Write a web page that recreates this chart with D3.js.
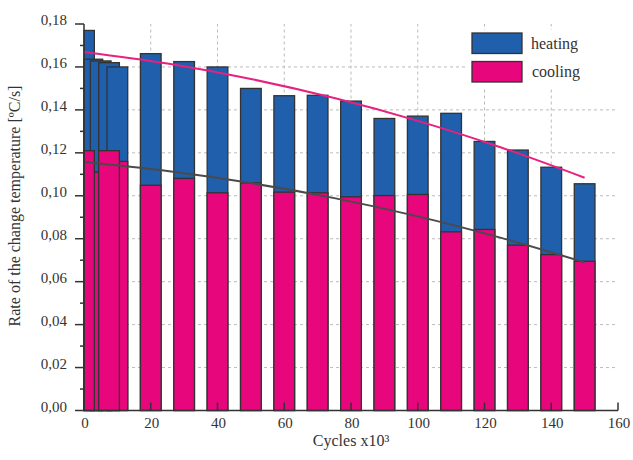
<!DOCTYPE html>
<html>
<head>
<meta charset="utf-8">
<script src="https://cdn.jsdelivr.net/npm/d3@7"></script>
<style>
  body { margin: 0; background: #fff; }
  text { font-family: "Liberation Serif", "Times New Roman", serif; fill: #333; }
</style>
</head>
<body>
<div id="chart"></div>
<script>
// bars: cycles x10^3 and rates
const cycles = [0, 2.5, 5, 7.5, 10, 20, 30, 40, 50, 60, 70, 80, 90, 100, 110, 120, 130, 140, 150];
const heating = [0.177, 0.1636, 0.1628, 0.162, 0.160, 0.1662, 0.1625, 0.160, 0.150, 0.1466, 0.1468, 0.1441, 0.1360, 0.1371, 0.1384, 0.1253, 0.1213, 0.1133, 0.1056];
const cooling = [0.121, 0.111, 0.111, 0.121, 0.116, 0.1049, 0.1081, 0.1014, 0.106, 0.1017, 0.1014, 0.0995, 0.1001, 0.1006, 0.0832, 0.0843, 0.077, 0.0726, 0.0695];

// fitted trend lines, read at a few points
const fitCycles = [0, 25, 50, 75, 100, 125, 150];
const heatingFit = [0.167, 0.1616, 0.1544, 0.1455, 0.1349, 0.1225, 0.1084];
const coolingFit = [0.1157, 0.1115, 0.1059, 0.0989, 0.0904, 0.0804, 0.0690];

const xTicks = [0, 20, 40, 60, 80, 100, 120, 140, 160];
const yTicks = [0, 0.02, 0.04, 0.06, 0.08, 0.10, 0.12, 0.14, 0.16, 0.18];
const seriesNames = ["heating", "cooling"];

const margin = { top: 24, right: 15, bottom: 49.5, left: 84 };
const width = 633 - margin.left - margin.right;
const height = 460 - margin.top - margin.bottom;

const svg = d3.select("#chart")
  .append("svg")
  .attr("width", 633)
  .attr("height", 460)
  .append("g")
  .attr("transform", `translate(${margin.left},${margin.top})`);

const x = d3.scaleLinear().domain([0, 160]).range([0, width]);
const y = d3.scaleLinear().domain([0, 0.18]).range([height, 0]);

const blue = "#1f5fac";
const pink = "#e8067c";
const edge = "#333";
const barW = 6.2;

// grid
svg.append("g")
  .selectAll("line")
  .data(xTicks.filter(t => t > 0 && t < 160))
  .enter().append("line")
  .attr("x1", d => x(d)).attr("x2", d => x(d))
  .attr("y1", y(0)).attr("y2", y(0.18))
  .attr("stroke", "#bbb").attr("stroke-dasharray", "3,3");

svg.append("g")
  .selectAll("line")
  .data(yTicks.filter(t => t > 0 && t < 0.17))
  .enter().append("line")
  .attr("x1", 0).attr("x2", x(160))
  .attr("y1", d => y(d)).attr("y2", d => y(d))
  .attr("stroke", "#bbb").attr("stroke-dasharray", "3,3");

const data = cycles.map((c, i) => ({ c: c, heat: heating[i], cool: cooling[i] }));
const left = d => Math.max(x(d.c - barW / 2), x(0));
const right = d => x(d.c + barW / 2);

// heating bars (full height), then cooling on top
svg.append("g")
  .selectAll("rect")
  .data(data)
  .enter().append("rect")
  .attr("x", left)
  .attr("width", d => right(d) - left(d))
  .attr("y", d => y(d.heat))
  .attr("height", d => y(0) - y(d.heat))
  .attr("fill", blue)
  .attr("stroke", edge)
  .attr("stroke-width", 1.3);

svg.append("g")
  .selectAll("rect")
  .data(data.slice().sort((a, b) => a.cool - b.cool))
  .enter().append("rect")
  .attr("x", left)
  .attr("width", d => right(d) - left(d))
  .attr("y", d => y(d.cool))
  .attr("height", d => y(0) - y(d.cool))
  .attr("fill", pink)
  .attr("stroke", edge)
  .attr("stroke-width", 1.3);

// trend lines
const fitLine = vals => d3.line()
  .x((d, i) => x(fitCycles[i]))
  .y(d => y(d))
  .curve(d3.curveMonotoneX)(vals);

svg.append("path")
  .attr("d", fitLine(heatingFit))
  .attr("fill", "none")
  .attr("stroke", "#e8207f")
  .attr("stroke-width", 2);

svg.append("path")
  .attr("d", fitLine(coolingFit))
  .attr("fill", "none")
  .attr("stroke", "#4a4a4a")
  .attr("stroke-width", 2);

// axes
const yAxis = svg.append("g");
yAxis.append("line")
  .attr("x1", 0).attr("x2", 0)
  .attr("y1", y(0)).attr("y2", y(0.18))
  .attr("stroke", edge).attr("stroke-width", 1.5);
yAxis.selectAll(".major")
  .data(yTicks)
  .enter().append("line")
  .attr("x1", -9).attr("x2", 0)
  .attr("y1", d => y(d)).attr("y2", d => y(d))
  .attr("stroke", edge).attr("stroke-width", 1.5);
yAxis.selectAll(".minor")
  .data(yTicks.slice(0, -1))
  .enter().append("line")
  .attr("x1", -4).attr("x2", 0)
  .attr("y1", d => y(d + 0.01)).attr("y2", d => y(d + 0.01))
  .attr("stroke", edge).attr("stroke-width", 1.5);
yAxis.selectAll("text")
  .data(yTicks)
  .enter().append("text")
  .attr("x", -17)
  .attr("y", d => y(d) - 4)
  .attr("dy", "0.35em")
  .attr("text-anchor", "end")
  .style("font-size", "15px")
  .text(d => d3.format(".2f")(d).replace(".", ","));

const xAxis = svg.append("g");
xAxis.append("line")
  .attr("x1", 0).attr("x2", x(160))
  .attr("y1", y(0)).attr("y2", y(0))
  .attr("stroke", edge).attr("stroke-width", 1.5);
xAxis.selectAll("line.tick")
  .data(xTicks)
  .enter().append("line")
  .attr("x1", d => x(d)).attr("x2", d => x(d))
  .attr("y1", y(0)).attr("y2", y(0) - 8)
  .attr("stroke", edge).attr("stroke-width", 1.5);
xAxis.selectAll("text")
  .data(xTicks)
  .enter().append("text")
  .attr("x", d => x(d) + 1)
  .attr("y", y(0) + 12)
  .attr("dy", "0.35em")
  .attr("text-anchor", "middle")
  .style("font-size", "15px")
  .text(d => d);

svg.append("text")
  .attr("text-anchor", "middle")
  .attr("x", x(80))
  .attr("y", height + 35)
  .style("font-size", "16px")
  .text("Cycles x10³");

svg.append("text")
  .attr("text-anchor", "middle")
  .attr("transform", "rotate(-90)")
  .attr("x", -(206 - margin.top))
  .attr("y", -margin.left + 20)
  .style("font-size", "16px")
  .text("Rate of the change temperature [ºC/s]");

// legend
const legend = svg.append("g").attr("transform", `translate(${472 - margin.left},${33 - margin.top})`);
legend.append("rect")
  .attr("x", -6).attr("y", -3)
  .attr("width", 156).attr("height", 57)
  .attr("fill", "#fff");
legend.selectAll("rect.key")
  .data(seriesNames)
  .enter().append("rect")
  .attr("class", "key")
  .attr("x", 0)
  .attr("y", (d, i) => i * 28.5)
  .attr("width", 50).attr("height", 20.5)
  .attr("fill", (d, i) => i === 0 ? blue : pink)
  .attr("stroke", edge).attr("stroke-width", 1.3);
legend.selectAll("text")
  .data(seriesNames)
  .enter().append("text")
  .attr("x", (d, i) => 59 + i)
  .attr("y", (d, i) => 15.5 + i * 28.8)
  .style("font-size", "16px")
  .text(d => d);
</script>
</body>
</html>
